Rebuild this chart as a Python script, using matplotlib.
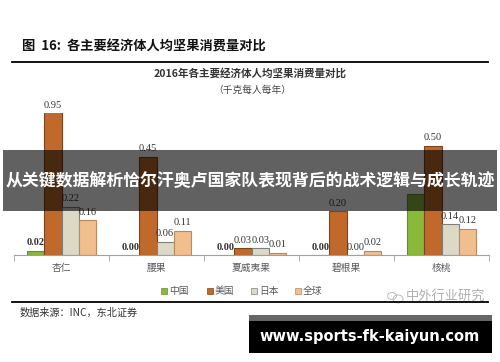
import numpy as np
import matplotlib.pyplot as plt
from matplotlib.patches import Rectangle, Ellipse

plt.rcParams['font.family'] = ['Noto Sans CJK SC', 'DejaVu Sans']

categories = ['杏仁', '腰果', '夏威夷果', '碧根果', '核桃']
series = ['中国', '美国', '日本', '全球']
china = [0.02, 0.00, 0.00, 0.00, 0.28]
usa = [0.95, 0.45, 0.03, 0.20, 0.50]
japan = [0.22, 0.06, 0.03, 0.00, 0.14]
world = [0.16, 0.11, 0.01, 0.02, 0.12]
values = [china, usa, japan, world]

fills = ['#8AB838', '#C0692B', '#DDD9C7', '#F1BE8E']
edges = ['#6b8a30', '#7a4420', '#7f7f7f', '#b98a60']

W, H = 500, 362
fig = plt.figure(figsize=(W / 100, H / 100), dpi=100)


def fx(x):
    return x / W


def fy(y):
    return 1 - y / H


# axes: x from 14 to 489 px, baseline at y=255, top at y=113
ax = fig.add_axes([fx(14), fy(255), (489 - 14) / W, (255 - 113) / H])
ymax = 0.65
x = np.arange(len(categories))
bw = 0.182
for i, (vals, fc, ec) in enumerate(zip(values, fills, edges)):
    pos = x + (i - 1.5) * bw
    ax.bar(pos, vals, width=bw, color=fc, edgecolor=ec, linewidth=0.8)
    for p, v in zip(pos, vals):
        if i == 0 and v > 0.1:
            continue  # hidden by banner in reference
        ax.annotate(f'{v:.2f}', (p, min(v, ymax)), xytext=(0, 2.5),
                    textcoords='offset points', ha='center', va='bottom',
                    fontsize=7.5, family='Liberation Serif', color='#333333',
                    fontweight='bold' if i == 0 else 'normal',
                    annotation_clip=False)

ax.set_xlim(-0.5, len(categories) - 0.5)
ax.set_ylim(0, ymax)
for s in ['top', 'right', 'left']:
    ax.spines[s].set_visible(False)
ax.spines['bottom'].set_color('#a0a0a0')
ax.set_yticks([])
ax.set_xticks(x)
ax.set_xticklabels(categories, fontsize=7, color='#595959')
ax.tick_params(axis='x', which='major', length=0, pad=6)
ax.set_xticks(np.arange(-0.5, len(categories)), minor=True)
ax.tick_params(axis='x', which='minor', length=4, color='#a0a0a0')

# legend drawn by hand at fixed spots
leg_x = [164, 210, 254, 298]
for lx, name, fc, ec in zip(leg_x, series, fills, edges):
    fig.patches.append(Rectangle((fx(lx - 3), fy(294)), 6 / W, 6 / H,
                                 facecolor=fc, edgecolor=ec, linewidth=0.5,
                                 transform=fig.transFigure))
    fig.text(fx(lx + 5), fy(291), name, fontsize=7, color='#595959',
             va='center', ha='left')

# titles
fig.text(fx(22), fy(47), '图  16:  各主要经济体人均坚果消费量对比', fontsize=9.5,
         fontweight='bold', va='center', ha='left', color='#111111')
fig.add_artist(plt.Line2D([fx(12), fx(488)], [fy(62), fy(62)], color='black', lw=1.3))
fig.text(fx(250), fy(73), '2016年各主要经济体人均坚果消费量对比', fontsize=7.6,
         fontweight='bold', va='center', ha='center', color='#333333')
fig.text(fx(252), fy(90), '（千克每人每年）', fontsize=7, va='center', ha='center',
         color='#444444')

fig.add_artist(plt.Line2D([fx(12), fx(488)], [fy(302), fy(302)], color='black', lw=1.3))
fig.text(fx(20), fy(313), '数据来源：INC，东北证券', fontsize=7.3, va='center',
         ha='left', color='#333333')

# watermark
fig.patches.append(Ellipse((fx(392), fy(296)), 9 / W, 7 / H, fill=False,
                           edgecolor='#bbbbbb', lw=0.7, transform=fig.transFigure))
fig.patches.append(Ellipse((fx(398), fy(299)), 10 / W, 8 / H, fill=False,
                           edgecolor='#bbbbbb', lw=0.7, transform=fig.transFigure))
fig.text(fx(406), fy(297), '中外行业研究', fontsize=9.5, va='center', ha='left',
         color='#b0b0b0')

# dark banner
fig.patches.append(Rectangle((fx(3), fy(211)), 494 / W, 61 / H, facecolor='black',
                             alpha=0.62, edgecolor='none', transform=fig.transFigure))
fig.text(fx(250), fy(181), '从关键数据解析恰尔汗奥卢国家队表现背后的战术逻辑与成长轨迹',
         fontsize=12.2, fontweight='bold', color='white', va='center', ha='center')

# url box
fig.patches.append(Rectangle((fx(249), fy(321)), 243 / W, 6 / H, facecolor='#666666',
                             edgecolor='none', transform=fig.transFigure))
fig.patches.append(Rectangle((fx(249), fy(353)), 243 / W, 32 / H, facecolor='black',
                             edgecolor='none', transform=fig.transFigure))
fig.text(fx(370), fy(337), 'www.sports-fk-kaiyun.com', fontsize=10.5,
         fontweight='bold', color='white', va='center', ha='center',
         family='DejaVu Sans')

fig.savefig('out.png', dpi=100)
